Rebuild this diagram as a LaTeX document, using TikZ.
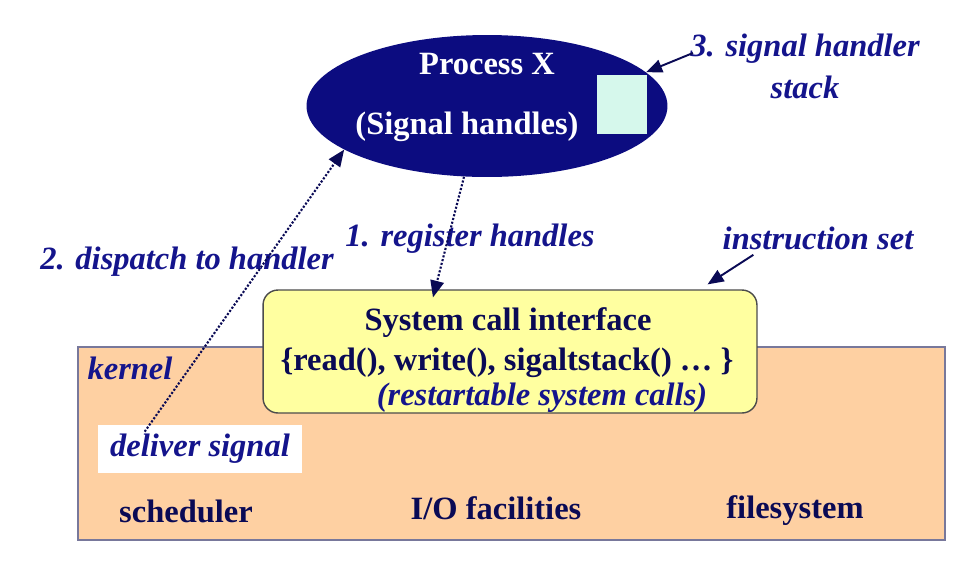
\documentclass[tikz,border=0pt]{standalone}
\usepackage{fontspec}
\setmainfont{Liberation Serif}
\usetikzlibrary{arrows,calc,shapes.geometric}

\definecolor{procblue}{RGB}{12,12,128}
\definecolor{labnavy}{RGB}{20,20,140}
\definecolor{darknavy}{RGB}{10,10,85}
\definecolor{kernfill}{RGB}{254,208,162}
\definecolor{kernline}{RGB}{120,120,155}
\definecolor{callfill}{RGB}{255,255,160}
\definecolor{stackfill}{RGB}{214,248,236}
\newcommand{\bigsz}{\fontsize{18.5}{24}\selectfont}

\begin{document}
\begin{tikzpicture}[x=0.02cm,y=-0.02cm,>=triangle 45]
		\tikzset{
			lbl/.style={font=\bigsz\bfseries\itshape,text=labnavy,inner sep=0pt,align=center},
			part/.style={font=\bigsz\bfseries,text=darknavy,inner sep=0pt},
			proctext/.style={font=\bigsz\bfseries,text=white,inner sep=0pt},
			proc/.style={ellipse,fill=procblue,minimum width=7.22cm,minimum height=2.84cm,inner sep=0pt},
			stackbox/.style={rectangle,fill=stackfill,minimum width=1.0cm,minimum height=1.18cm,inner sep=0pt},
			kernel/.style={rectangle,fill=kernfill,draw=kernline,line width=0.8pt,minimum width=17.34cm,minimum height=3.86cm},
			callbox/.style={rectangle,rounded corners=8.5pt,fill=callfill,draw=black!70,line width=0.8pt,minimum width=9.88cm,minimum height=2.46cm},
			sigbox/.style={rectangle,fill=white,minimum width=4.08cm,minimum height=0.96cm},
			dotarrow/.style={->,densely dotted,line width=1.2pt,draw=darknavy},
			ptr/.style={->,line width=1.1pt,draw=darknavy}
		}
		\useasboundingbox (0,0) rectangle (977,566);
		% kernel layer
		\node[kernel] (kern) at (511.5,443.5) {};
		\node[lbl] (kernlbl) at (130,368) {kernel};
		\node[sigbox,lbl] (dsig) at (200,449) {deliver signal};
		\node[part] (sched) at (186,511) {scheduler};
		\node[part] (iofac) at (496,508) {I/O facilities};
		\node[part] (fsys) at (795,511) {filesystem};
		% system call interface
		\node[callbox] (sysc) at (510,351.5) {};
		\node[part] (scititle) at (508,323) {System call interface};
		\node[part] (scilist) at (507,363) {\{read(), write(), sigaltstack() … \}};
		\node[lbl] (restart) at (542,398) {(restartable system calls)};
		% process
		\node[proc] (proc) at (487,106) {};
		\node[proctext] (ptitle) at (487,64) {Process X};
		\node[proctext] (psub) at (467,127) {(Signal handles)};
		\node[stackbox] (stack) at (622,104.5) {};
		% labels
		\node[lbl] (stacklbl) at (805,66) {3. signal handler\\stack};
		\node[lbl] (instr) at (818,238) {instruction set};
		\node[lbl] (reglbl) at (470,239) {1. register handles};
		\node[lbl] (displbl) at (187,262) {2. dispatch to handler};
		% connectors
		\draw[ptr] ($(stacklbl.west)+(3,-13)$) -- (proc.12);
		\draw[ptr] ($(instr.south west)+(31,5)$) -- ($(sysc.north east)+(-50,-5)$);
		\draw[dotarrow] (proc.252) -- ($(sysc.north)+(-77,8)$);
		\draw[dotarrow] ($(dsig.north west)+(47,7)$) -- (proc.197);
	\end{tikzpicture}
\end{document}
